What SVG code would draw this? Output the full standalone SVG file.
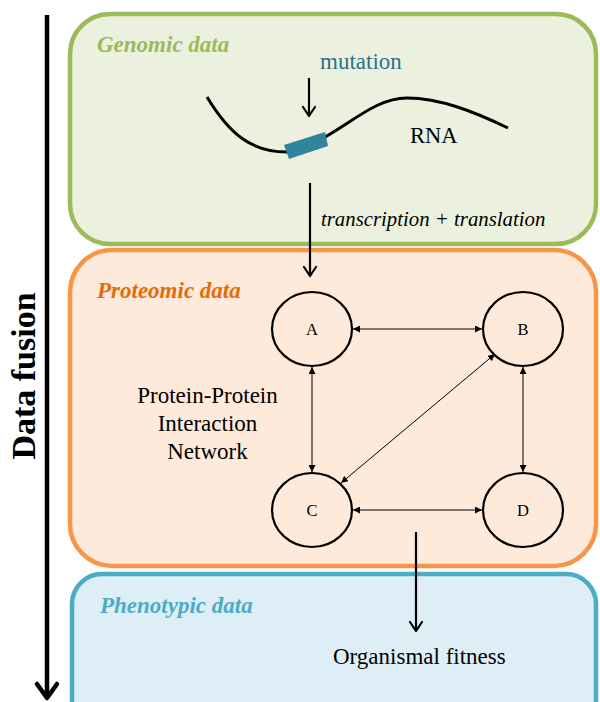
<svg xmlns="http://www.w3.org/2000/svg" width="600" height="702" viewBox="0 0 600 702">
<defs>
<style>
text{font-family:'Liberation Serif','Times New Roman',Times,'DejaVu Serif',serif}
.lbl{font-weight:bold;font-style:italic;font-size:23px}
.node ellipse{fill:none;stroke:#000;stroke-width:2.2}
.node text{font-size:16.5px;text-anchor:middle}
.edge{stroke:#000;stroke-width:1;fill:none;marker-start:url(#ah);marker-end:url(#ah)}
.big{stroke:#000;stroke-width:2.2;fill:none}
.head{stroke:#000;stroke-width:2.2;fill:none;stroke-linecap:round;stroke-linejoin:round}
</style>
<marker id="ah" viewBox="0 0 10 10" refX="10" refY="5" markerWidth="7" markerHeight="7" orient="auto-start-reverse" markerUnits="userSpaceOnUse">
<path d="M0,0 L10,5 L0,10 z" fill="#000"/>
</marker>
</defs>
<g id="genomic">
<rect x="70" y="14" width="526" height="230" rx="40" fill="#EBF1DE" stroke="#9BBB59" stroke-width="4.5"/>
<text class="lbl" x="97" y="52" fill="#9BBB59">Genomic data</text>
</g>
<g id="proteomic">
<rect x="70" y="250" width="526" height="316" rx="42" fill="#FDEADA" stroke="#F79646" stroke-width="4.5"/>
<text class="lbl" x="97" y="298" fill="#E36C09">Proteomic data</text>
<text font-size="23" text-anchor="middle" x="207.5" y="403">Protein-Protein</text>
<text font-size="23" text-anchor="middle" x="207.5" y="431">Interaction</text>
<text font-size="23" text-anchor="middle" x="207.5" y="459">Network</text>
</g>
<g id="phenotypic">
<rect x="72" y="574" width="524" height="160" rx="30" fill="#DEEEF6" stroke="#4BACC6" stroke-width="4.5"/>
<text class="lbl" x="100" y="613" fill="#4BACC6">Phenotypic data</text>
<text font-size="23" x="333" y="664">Organismal fitness</text>
</g>
<g id="rna">
<path d="M207,97 C230,135 252,152 287,152" stroke="#000" stroke-width="3" fill="none"/>
<path d="M325,137 C355,120 378,98 407,98 C440,98 475,112 508,128" stroke="#000" stroke-width="3" fill="none"/>
<polygon points="284,145 325,132 328,146 289,159" fill="#31849B"/>
<text font-size="22.5" x="410" y="143">RNA</text>
<text font-size="23" x="320" y="69" fill="#2B7288">mutation</text>
</g>
<g id="node-A" class="node"><ellipse cx="312" cy="329" rx="40" ry="37"/><text x="312" y="335">A</text></g>
<g id="node-B" class="node"><ellipse cx="523" cy="329" rx="40" ry="37"/><text x="523" y="335">B</text></g>
<g id="node-C" class="node"><ellipse cx="312" cy="510" rx="40" ry="37"/><text x="312" y="516">C</text></g>
<g id="node-D" class="node"><ellipse cx="523" cy="510" rx="40" ry="37"/><text x="523" y="516">D</text></g>
<g id="connectors">
<line class="edge" x1="353" y1="329" x2="482" y2="329"/>
<line class="edge" x1="312" y1="367" x2="312" y2="472"/>
<line class="edge" x1="523" y1="367" x2="523" y2="472"/>
<line class="edge" x1="353" y1="510" x2="482" y2="510"/>
<line class="edge" x1="495" y1="354" x2="341" y2="483"/>
<line class="big" x1="309" y1="78" x2="309" y2="116"/>
<polyline class="head" points="303,107 309,116 315,107"/>
<line class="big" x1="310" y1="183" x2="310" y2="276"/>
<polyline class="head" points="304,267 310,276 316,267"/>
<text font-size="20.8" font-style="italic" x="321" y="226">transcription + translation</text>
<line class="big" x1="416" y1="532" x2="416" y2="631"/>
<polyline class="head" points="410,622 416,631 422,622"/>
<line x1="47" y1="15" x2="47" y2="698" stroke="#000" stroke-width="4.5"/>
<polyline points="37,684 47,698 57,684" fill="none" stroke="#000" stroke-width="4.5" stroke-linecap="round" stroke-linejoin="round"/>
</g>
<text font-size="34" font-weight="bold" text-anchor="middle" transform="translate(35,376) rotate(-90)">Data fusion</text>
</svg>
